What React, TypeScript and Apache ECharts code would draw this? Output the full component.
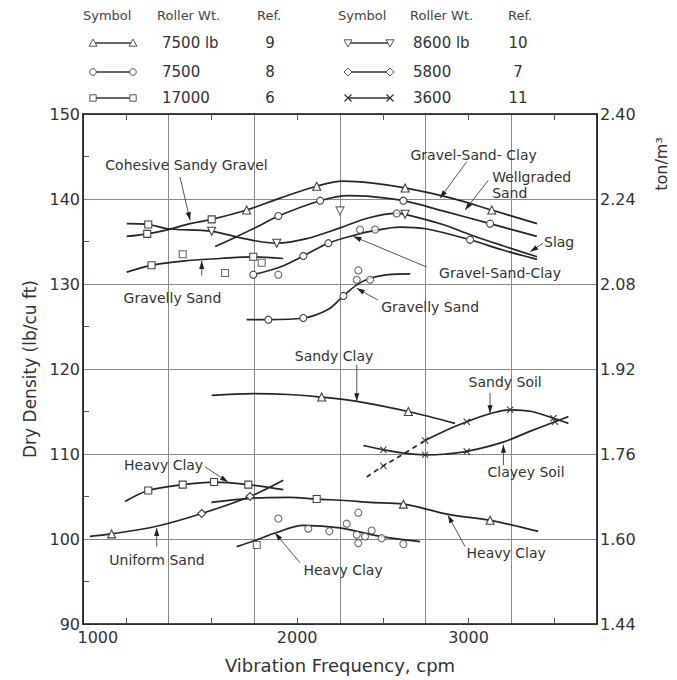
import React, { useEffect, useRef } from "react";
import * as echarts from "echarts";

// [vibration frequency (cpm), dry density (lb/cu ft), marker]
// marker: t triangle, v inverted triangle, c circle, s square, d diamond, x cross
type Pt = [number, number, string?];

const xLabelValues = [1000, 2000, 3000];

const upperCurve: Pt[] = [
  [1005, 135.6], [1125, 135.9, "s"], [1248, 136.4], [1375, 137.1], [1501, 137.6, "s"],
  [1705, 138.7, "t"], [1900, 140.1], [2114, 141.5, "t"], [2268, 142.1], [2430, 141.9],
  [2630, 141.3, "t"], [2900, 140.1], [3136, 138.7, "t"], [3400, 137.1],
];
const invertedCurve: Pt[] = [
  [1005, 137.1], [1131, 137.0, "s"], [1248, 136.5], [1501, 136.2, "v"], [1700, 135.3],
  [1881, 134.8, "v"], [2050, 135.3], [2250, 136.6], [2420, 137.8], [2581, 138.3],
  [2630, 138.2, "v"], [2850, 137.0], [3009, 135.8], [3200, 134.5], [3400, 133.2],
];
const wellgradedSand: Pt[] = [
  [1521, 134.4], [1650, 135.6], [1764, 136.7], [1890, 138.0, "c"], [2134, 139.8, "c"],
  [2300, 140.4], [2426, 140.3], [2620, 139.8, "c"], [2850, 138.6], [3126, 137.1, "c"], [3399, 135.6],
];
const gravelSandClayLower: Pt[] = [
  [1744, 131.1, "c"], [1900, 132.0], [2036, 133.3, "c"], [2182, 134.8, "c"], [2328, 135.7],
  [2455, 136.3], [2600, 136.7], [2750, 136.5], [3009, 135.2, "c"], [3200, 134.0], [3400, 132.9],
];
const gravellySandUpper: Pt[] = [
  [1005, 131.4], [1150, 132.2, "s"], [1332, 132.7], [1550, 133.0], [1744, 133.2, "s"], [1919, 133.0],
];
const gravellySandLower: Pt[] = [
  [1705, 125.8], [1832, 125.8, "c"], [2036, 126.0, "c"], [2180, 127.0], [2270, 128.6, "c"],
  [2348, 129.9], [2430, 130.7], [2530, 131.1], [2660, 131.2],
];
const sandyClay: Pt[] = [
  [1501, 116.9], [1744, 117.1], [1950, 117.0], [2143, 116.7, "t"], [2348, 116.2],
  [2649, 115.0, "t"], [2922, 113.6],
];
const sandySoilDashed: Pt[] = [[2406, 107.3], [2503, 108.6, "x"], [2620, 110.0], [2747, 111.6]];
const sandySoil: Pt[] = [
  [2747, 111.6, "x"], [2870, 112.8], [2990, 113.8, "x"], [3120, 114.7], [3243, 115.2, "x"],
  [3370, 115.0], [3496, 114.2, "x"], [3583, 113.6],
];
const clayeySoil: Pt[] = [
  [2386, 111.0], [2503, 110.5, "x"], [2620, 110.1], [2747, 109.9, "x"], [2870, 110.0],
  [2990, 110.3, "x"], [3202, 111.4], [3350, 112.6], [3505, 113.8, "x"], [3583, 114.4],
];
const heavyClaySquares: Pt[] = [
  [995, 104.4], [1131, 105.7, "s"], [1332, 106.4, "s"], [1515, 106.7, "s"], [1715, 106.4, "s"], [1919, 105.8],
];
const uniformSand: Pt[] = [
  [790, 100.3], [917, 100.6, "t"], [1180, 101.5], [1443, 103.0, "d"], [1725, 105.0, "d"], [1919, 106.9],
];
const heavyClayLong: Pt[] = [
  [1500, 104.3], [1744, 104.8], [1950, 104.9], [2114, 104.7, "s"], [2300, 104.5], [2426, 104.3],
  [2620, 104.1, "t"], [2883, 102.9], [3126, 102.2, "t"], [3407, 100.9],
];
const heavyClayCircles: Pt[] = [
  [1647, 99.1], [1764, 99.9], [1871, 100.7], [2036, 101.6], [2250, 101.3], [2484, 100.3], [2718, 99.7],
];
const loosePoints: Pt[] = [
  [1332, 133.5, "s"], [1579, 131.3, "s"], [1793, 132.5, "s"], [1890, 131.1, "c"],
  [2367, 136.4, "c"], [2455, 136.4, "c"], [2581, 138.3, "c"], [2250, 138.6, "v"],
  [2357, 131.6, "c"], [2348, 130.5, "c"], [2426, 130.5, "c"],
  [1890, 102.4, "c"], [2065, 101.2, "c"], [2188, 100.9, "c"], [2289, 101.8, "c"], [2357, 103.1, "c"],
  [2348, 100.5, "c"], [2396, 100.3, "c"], [2357, 99.5, "c"], [2435, 101.0, "c"], [2493, 100.1, "c"],
  [2620, 99.4, "c"], [1764, 99.3, "s"],
];

type Note = { text: string; at: [number, number]; from: [number, number]; to: [number, number]; align?: string };
const annotations: Note[] = [
  { text: "Cohesive Sandy Gravel", at: [1354, 144.0], from: [1316, 142.6], to: [1375, 137.5] },
  { text: "Gravel-Sand- Clay", at: [3030, 145.2], from: [2990, 144.4], to: [2834, 140.1] },
  { text: "Wellgraded\nSand", at: [3138, 141.6], from: [3116, 142.2], to: [2980, 138.7], align: "left" },
  { text: "Slag", at: [3529, 135.0], from: [3436, 134.8], to: [3360, 133.8] },
  { text: "Gravel-Sand-Clay", at: [3184, 131.3], from: [2756, 132.0], to: [2328, 135.6] },
  { text: "Gravelly Sand", at: [1272, 128.4], from: [1443, 131.0], to: [1443, 132.7] },
  { text: "Gravelly Sand", at: [2776, 127.3], from: [2472, 128.1], to: [2348, 129.5] },
  { text: "Sandy Clay", at: [2215, 121.5], from: [2348, 120.5], to: [2348, 116.2] },
  { text: "Sandy Soil", at: [3214, 118.5], from: [3126, 117.2], to: [3126, 114.8] },
  { text: "Clayey Soil", at: [3336, 107.9], from: [3204, 108.7], to: [3204, 111.1] },
  { text: "Heavy Clay", at: [1220, 108.7], from: [1462, 108.5], to: [1596, 106.7] },
  { text: "Uniform Sand", at: [1182, 97.5], from: [1180, 99.1], to: [1180, 101.3] },
  { text: "Heavy Clay", at: [2268, 96.4], from: [2017, 97.2], to: [1871, 100.7] },
  { text: "Heavy Clay", at: [3220, 98.4], from: [2980, 99.1], to: [2880, 102.8] },
];

const legendHeaders = ["Symbol", "Roller Wt.", "Ref."];
const legendLeft = [
  { mark: "t", weight: "7500 lb", ref: "9" },
  { mark: "c", weight: "7500", ref: "8" },
  { mark: "s", weight: "17000", ref: "6" },
];
const legendRight = [
  { mark: "v", weight: "8600 lb", ref: "10" },
  { mark: "d", weight: "5800", ref: "7" },
  { mark: "x", weight: "3600", ref: "11" },
];

const FONT = '"DejaVu Sans", sans-serif';
const INK = "#262626";
const TXT = "#333";
const XPATH = "path://M1,0L5,4L9,0L10,1L6,5L10,9L9,10L5,6L1,10L0,9L4,5L0,1Z";

function symFor(m?: string): any {
  switch (m) {
    case "t": return { symbol: "triangle", symbolSize: 8 };
    case "v": return { symbol: "triangle", symbolRotate: 180, symbolSize: 8 };
    case "c": return { symbol: "circle", symbolSize: 7 };
    case "s": return { symbol: "rect", symbolSize: 7 };
    case "d": return { symbol: "diamond", symbolSize: 8 };
    case "x": return { symbol: XPATH, symbolSize: 7, itemStyle: { color: "#333", borderWidth: 0 } };
    default: return { symbol: "none" };
  }
}

function lineSeries(name: string, pts: Pt[], dashed = false) {
  return {
    type: "line",
    name,
    smooth: 0.35,
    showAllSymbol: true,
    xAxisIndex: 0,
    yAxisIndex: 0,
    lineStyle: { color: INK, width: 1.7, type: dashed ? [5, 4] : "solid" },
    itemStyle: { color: "#fff", borderColor: "#444", borderWidth: 1.1 },
    data: pts.map(([x, y, m]) => ({ value: [x, y], ...symFor(m) })),
    z: 3,
  };
}

function legendMark(code: string, cx: number, cy: number): any[] {
  const s = 4;
  const st = { fill: "#fff", stroke: "#555", lineWidth: 1 };
  switch (code) {
    case "t": return [{ type: "polygon", shape: { points: [[cx, cy - s], [cx + s, cy + s * 0.8], [cx - s, cy + s * 0.8]] }, style: st, z: 20 }];
    case "v": return [{ type: "polygon", shape: { points: [[cx, cy + s], [cx + s, cy - s * 0.8], [cx - s, cy - s * 0.8]] }, style: st, z: 20 }];
    case "c": return [{ type: "circle", shape: { cx, cy, r: 3.3 }, style: st, z: 20 }];
    case "s": return [{ type: "rect", shape: { x: cx - 3.2, y: cy - 3.2, width: 6.4, height: 6.4 }, style: st, z: 20 }];
    case "d": return [{ type: "polygon", shape: { points: [[cx, cy - s], [cx + s, cy], [cx, cy + s], [cx - s, cy]] }, style: st, z: 20 }];
    default: return [
      { type: "line", shape: { x1: cx - 3.5, y1: cy - 3.5, x2: cx + 3.5, y2: cy + 3.5 }, style: { stroke: "#333", lineWidth: 1.2 }, z: 20 },
      { type: "line", shape: { x1: cx - 3.5, y1: cy + 3.5, x2: cx + 3.5, y2: cy - 3.5 }, style: { stroke: "#333", lineWidth: 1.2 }, z: 20 },
    ];
  }
}

export default function App() {
  const ref = useRef<HTMLDivElement>(null);
  useEffect(() => {
    document.body.style.margin = "0";
    const chart = echarts.init(ref.current!, null, { renderer: "svg" });
    const axisLine = { show: true, lineStyle: { color: "#111", width: 1.6 } };
    const option: any = {
      animation: false,
      backgroundColor: "#fff",
      textStyle: { fontFamily: FONT },
      grid: { left: 83, right: 80, top: 114, bottom: 56 },
      xAxis: [
        {
          type: "value", min: 750, max: 3750, interval: 500, position: "bottom",
          axisLine, axisTick: { show: false, inside: true }, axisLabel: { show: false },
          splitLine: { show: true, lineStyle: { color: "#8a8a8a", width: 1 } },
          minorTick: { show: true, splitNumber: 2, length: 6, lineStyle: { color: "#555" } },
        },
        {
          type: "value", min: 750, max: 3750, interval: 250, position: "bottom",
          axisLine: { show: false }, axisTick: { show: false }, splitLine: { show: false },
          axisLabel: {
            fontSize: 16, color: TXT, margin: 5, fontFamily: FONT,
            formatter: (v: number) => (v === xLabelValues[0] ? "{a|" + v + "}" : xLabelValues.includes(v) ? String(v) : ""),
            rich: { a: { padding: [0, 56, 0, 0], fontSize: 16, color: TXT, fontFamily: FONT } },
          },
          name: "Vibration Frequency, cpm", nameLocation: "middle", nameGap: 32,
          nameTextStyle: { fontSize: 18, color: TXT, fontFamily: FONT },
        },
        {
          type: "value", min: 750, max: 3750, interval: 500, position: "top",
          axisLine, axisTick: { show: false, inside: true }, axisLabel: { show: false }, splitLine: { show: false },
          minorTick: { show: true, splitNumber: 2, length: 6, lineStyle: { color: "#555" } },
        },
      ],
      yAxis: [
        {
          type: "value", min: 90, max: 150, interval: 10, position: "left",
          axisLine, axisTick: { show: false, inside: true },
          minorTick: { show: true, splitNumber: 2, length: 6, lineStyle: { color: "#555" } },
          axisLabel: { fontSize: 16, color: TXT, margin: 3, fontFamily: FONT },
          splitLine: { show: true, lineStyle: { color: "#8a8a8a", width: 1 } },
          name: "Dry Density (lb/cu ft)", nameLocation: "middle", nameGap: 44, nameRotate: 90,
          nameTextStyle: { fontSize: 17, color: TXT, fontFamily: FONT },
        },
        {
          type: "value", min: 1.44, max: 2.4, interval: 0.16, position: "right",
          axisLine, axisTick: { show: false }, splitLine: { show: false },
          axisLabel: { fontSize: 16, color: TXT, margin: 3, fontFamily: FONT, formatter: (v: number) => v.toFixed(2) },
        },
      ],
      series: [
        lineSeries("upper", upperCurve),
        lineSeries("inverted", invertedCurve),
        lineSeries("wellgraded", wellgradedSand),
        lineSeries("gscLower", gravelSandClayLower),
        lineSeries("gravellyUpper", gravellySandUpper),
        lineSeries("gravellyLower", gravellySandLower),
        lineSeries("sandyClay", sandyClay),
        lineSeries("sandySoilDashed", sandySoilDashed, true),
        lineSeries("sandySoil", sandySoil),
        lineSeries("clayeySoil", clayeySoil),
        lineSeries("heavyClaySquares", heavyClaySquares),
        lineSeries("uniformSand", uniformSand),
        lineSeries("heavyClayLong", heavyClayLong),
        lineSeries("heavyClayCircles", heavyClayCircles),
        {
          type: "scatter", name: "points", xAxisIndex: 0, yAxisIndex: 0, z: 4,
          itemStyle: { color: "#fff", borderColor: "#444", borderWidth: 1.1 },
          data: loosePoints.map(([x, y, m]) => ({ value: [x, y], ...symFor(m) })),
        },
      ],
    };
    chart.setOption(option);

    const px = (p: [number, number]) => chart.convertToPixel({ xAxisIndex: 0, yAxisIndex: 0 }, p) as number[];
    const graphics: any[] = [];
    annotations.forEach((a) => {
      const [tx, ty] = px(a.at);
      const [fx, fy] = px(a.from);
      const [ex, ey] = px(a.to);
      graphics.push({
        type: "text", x: tx, y: ty, z: 30,
        style: { text: a.text, fill: TXT, font: "14px " + FONT, align: a.align || "center", verticalAlign: "middle", lineHeight: 16 },
      });
      graphics.push({ type: "line", z: 29, shape: { x1: fx, y1: fy, x2: ex, y2: ey }, style: { stroke: "#555", lineWidth: 1 } });
      const ang = Math.atan2(ey - fy, ex - fx);
      const L = 8, W = 2.6;
      const bx = ex - L * Math.cos(ang), by = ey - L * Math.sin(ang);
      graphics.push({
        type: "polygon", z: 29,
        shape: { points: [[ex, ey], [bx + W * Math.sin(ang), by - W * Math.cos(ang)], [bx - W * Math.sin(ang), by + W * Math.cos(ang)]] },
        style: { fill: "#222" },
      });
    });

    // legend table
    const headerY = 15;
    const rowY = [43, 72, 98];
    const cols = [
      { head: [83, 157, 257], line: [93, 133], weightX: 162, refX: 270, rows: legendLeft },
      { head: [338, 410, 508], line: [348, 390], weightX: 413, refX: 518, rows: legendRight },
    ];
    cols.forEach((c) => {
      legendHeaders.forEach((h, i) => {
        graphics.push({ type: "text", x: c.head[i], y: headerY, z: 20, style: { text: h, fill: "#444", font: "13px " + FONT, verticalAlign: "middle" } });
      });
      c.rows.forEach((r, i) => {
        const y = rowY[i];
        graphics.push({ type: "line", z: 19, shape: { x1: c.line[0], y1: y, x2: c.line[1], y2: y }, style: { stroke: "#333", lineWidth: 1.5 } });
        graphics.push(...legendMark(r.mark, c.line[0], y));
        graphics.push(...legendMark(r.mark, c.line[1], y));
        graphics.push({ type: "text", x: c.weightX, y, z: 20, style: { text: r.weight, fill: TXT, font: "15px " + FONT, verticalAlign: "middle" } });
        graphics.push({ type: "text", x: c.refX, y, z: 20, style: { text: r.ref, fill: TXT, font: "15px " + FONT, align: "center", verticalAlign: "middle" } });
      });
    });

    // right axis unit
    const [, topY] = px([750, 150]);
    graphics.push({
      type: "text", x: 661, y: topY + 50, rotation: Math.PI / 2, z: 20,
      style: { text: "ton/m³", fill: TXT, font: "16px " + FONT, align: "center", verticalAlign: "middle" },
    });

    chart.setOption({ graphic: graphics });
    return () => chart.dispose();
  }, []);
  return <div ref={ref} style={{ width: 677, height: 680 }} />;
}
